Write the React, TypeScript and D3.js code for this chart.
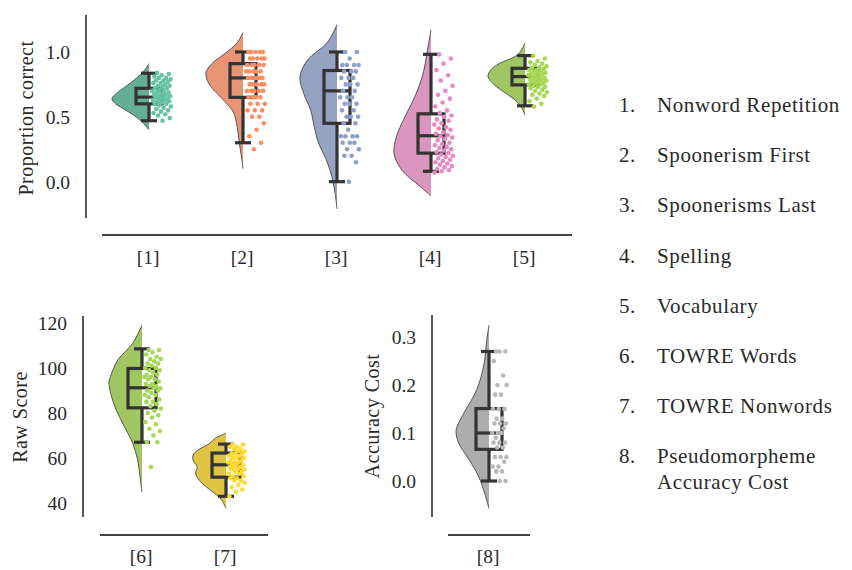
import React from 'react'
import * as d3 from 'd3'

// categories / labels
const topCats = ['1', '2', '3', '4', '5']
const rawCats = ['6', '7']
const costCats = ['8']
const legendNames = ['Nonword Repetition', 'Spoonerism First', 'Spoonerisms Last', 'Spelling', 'Vocabulary', 'TOWRE Words', 'TOWRE Nonwords', 'Pseudomorpheme', 'Accuracy Cost']

const topTicks = [0, 0.5, 1.0]
const rawTicks = [40, 60, 80, 100, 120]
const costTicks = [0, 0.1, 0.2, 0.3]

const dotColors = ['#66c2a5', '#fc8d62', '#8da0cb', '#e78ac3', '#a6d854', '#a6d854', '#ffd92f', '#b8b8b8']
const cloudColors = ['#65ae96', '#e99575', '#95a3c3', '#db96c0', '#9fc661', '#9fc661', '#e2c443', '#adadad']

// box stats: [low whisker, q1, median, q3, high whisker]
const nonwordBox = [0.47, 0.60, 0.652, 0.72, 0.836]
const spoonFirstBox = [0.30, 0.65, 0.80, 0.91, 1.0]
const spoonLastBox = [0.0, 0.45, 0.70, 0.857, 1.0]
const spellingBox = [0.08, 0.22, 0.354, 0.523, 0.982]
const vocabBox = [0.585, 0.746, 0.81, 0.874, 0.972]
const towreWordsBox = [67, 82.3, 91.2, 99.8, 108.5]
const towreNonBox = [43, 51.5, 57, 62.2, 66.2]
const costBox = [0.0, 0.066, 0.10, 0.151, 0.27]

// half-violin outlines: [value, relative density]
const nonwordDensity = [[0.91, 0], [0.86, 0.12], [0.80, 0.33], [0.74, 0.6], [0.68, 0.88], [0.64, 1], [0.60, 0.9], [0.55, 0.62], [0.50, 0.35], [0.45, 0.15], [0.41, 0.03], [0.40, 0]]
const spoonFirstDensity = [[1.15, 0], [1.07, 0.16], [0.99, 0.48], [0.91, 0.84], [0.84, 1], [0.76, 0.93], [0.68, 0.70], [0.60, 0.43], [0.53, 0.25], [0.43, 0.16], [0.30, 0.10], [0.17, 0.03], [0.10, 0]]
const spoonLastDensity = [[1.21, 0], [1.07, 0.27], [0.94, 0.79], [0.81, 1], [0.68, 0.90], [0.55, 0.71], [0.43, 0.62], [0.30, 0.50], [0.17, 0.29], [0.04, 0.14], [-0.09, 0.05], [-0.21, 0]]
const spellingDensity = [[1.17, 0], [0.99, 0.11], [0.86, 0.19], [0.73, 0.33], [0.61, 0.51], [0.48, 0.74], [0.35, 0.93], [0.22, 1], [0.09, 0.79], [-0.04, 0.28], [-0.11, 0]]
const vocabDensity = [[1.07, 0], [0.98, 0.19], [0.91, 0.70], [0.86, 0.93], [0.81, 1], [0.75, 0.84], [0.68, 0.51], [0.62, 0.23], [0.57, 0.09], [0.515, 0]]
const towreWordsDensity = [[119, 0], [111, 0.28], [103.6, 0.73], [96.1, 0.96], [93.9, 1], [88.8, 0.95], [81.3, 0.78], [73.9, 0.53], [66.5, 0.28], [59.1, 0.13], [51.7, 0.06], [45, 0]]
const towreNonDensity = [[71, 0], [69, 0.3], [66.5, 0.5], [62, 0.97], [59.1, 1], [56.1, 0.87], [53.2, 0.92], [50.2, 0.81], [47.2, 0.6], [44.3, 0.34], [41.3, 0.13], [37.6, 0]]
const costDensity = [[0.325, 0], [0.287, 0.08], [0.252, 0.13], [0.217, 0.24], [0.183, 0.42], [0.148, 0.71], [0.113, 0.97], [0.103, 1], [0.079, 0.92], [0.044, 0.6], [0.009, 0.31], [-0.026, 0.13], [-0.057, 0]]

// raw points
const nonwordPts = [0.84, 0.83, 0.82, 0.81, 0.80, 0.80, 0.79, 0.78, 0.78, 0.77, 0.76, 0.76, 0.75, 0.74, 0.74, 0.73, 0.72, 0.72, 0.71, 0.70, 0.70, 0.69, 0.69, 0.68, 0.67, 0.67, 0.66, 0.66, 0.65, 0.65, 0.64, 0.64, 0.63, 0.63, 0.62, 0.62, 0.61, 0.60, 0.60, 0.59, 0.58, 0.57, 0.56, 0.55, 0.54, 0.53, 0.52, 0.51, 0.49, 0.47]
const spoonFirstPts = [1.0, 1.0, 1.0, 1.0, 1.0, 0.95, 0.95, 0.95, 0.95, 0.95, 0.9, 0.9, 0.9, 0.9, 0.9, 0.85, 0.85, 0.85, 0.85, 0.85, 0.8, 0.8, 0.8, 0.8, 0.8, 0.8, 0.75, 0.75, 0.75, 0.75, 0.75, 0.7, 0.7, 0.7, 0.7, 0.7, 0.65, 0.65, 0.65, 0.65, 0.6, 0.6, 0.6, 0.55, 0.55, 0.55, 0.5, 0.5, 0.45, 0.4, 0.35, 0.3, 0.25]
const spoonLastPts = [1.0, 1.0, 0.95, 0.9, 0.9, 0.9, 0.9, 0.85, 0.85, 0.85, 0.8, 0.8, 0.8, 0.75, 0.75, 0.75, 0.7, 0.7, 0.65, 0.65, 0.65, 0.6, 0.6, 0.6, 0.55, 0.55, 0.5, 0.5, 0.5, 0.45, 0.45, 0.4, 0.35, 0.35, 0.35, 0.35, 0.3, 0.3, 0.3, 0.25, 0.25, 0.2, 0.2, 0.15, 0.0]
const spellingPts = [0.98, 0.95, 0.91, 0.86, 0.82, 0.78, 0.74, 0.70, 0.67, 0.64, 0.61, 0.58, 0.55, 0.53, 0.51, 0.50, 0.48, 0.47, 0.45, 0.44, 0.42, 0.41, 0.40, 0.38, 0.37, 0.36, 0.35, 0.34, 0.33, 0.32, 0.30, 0.29, 0.28, 0.27, 0.26, 0.25, 0.24, 0.23, 0.22, 0.21, 0.20, 0.19, 0.18, 0.17, 0.16, 0.15, 0.14, 0.13, 0.12, 0.11, 0.10, 0.09, 0.08, 0.07]
const vocabPts = [0.97, 0.95, 0.93, 0.92, 0.91, 0.90, 0.89, 0.88, 0.88, 0.87, 0.86, 0.86, 0.85, 0.85, 0.84, 0.84, 0.83, 0.83, 0.82, 0.82, 0.81, 0.81, 0.80, 0.80, 0.79, 0.79, 0.78, 0.78, 0.77, 0.77, 0.76, 0.76, 0.75, 0.75, 0.74, 0.73, 0.73, 0.72, 0.71, 0.70, 0.69, 0.68, 0.67, 0.66, 0.64, 0.62, 0.60, 0.58]
const towreWordsPts = [108, 108, 107, 106, 105, 104, 104, 103, 102, 102, 101, 100, 100, 99, 99, 98, 97, 97, 96, 96, 95, 95, 94, 93, 93, 92, 92, 91, 91, 90, 90, 89, 88, 88, 87, 86, 85, 85, 84, 83, 82, 81, 80, 79, 78, 76, 75, 73, 72, 70, 67, 67, 56]
const towreNonPts = [66, 66, 65, 65, 64, 64, 63, 63, 62, 62, 62, 61, 61, 60, 60, 60, 59, 59, 58, 58, 58, 57, 57, 57, 56, 56, 56, 55, 55, 55, 54, 54, 53, 53, 52, 52, 51, 51, 50, 50, 49, 48, 47, 46, 45, 43]
const costPts = [0.27, 0.27, 0.27, 0.25, 0.22, 0.20, 0.20, 0.18, 0.18, 0.15, 0.15, 0.15, 0.13, 0.13, 0.12, 0.12, 0.12, 0.11, 0.10, 0.10, 0.10, 0.09, 0.08, 0.08, 0.08, 0.07, 0.07, 0.05, 0.05, 0.05, 0.04, 0.03, 0.03, 0.02, 0.02, 0.0, 0.0]

const font = "'Liberation Serif', 'DejaVu Serif', 'Noto Serif', 'Times New Roman', Times, FreeSerif, serif"
const ink = '#2a2a2a'
const axisInk = '#444'
const boxInk = '#333'

// deterministic spread for the strip points
const spread = (i: number) => (i * 0.61803398875 + 0.27) % 1

type CloudProps = {
  cx: number
  y: d3.ScaleLinear<number, number>
  w: d3.ScaleLinear<number, number>
  density: number[][]
  box: number[]
  pts: number[]
  fill: string
  dot: string
  boxHalf: number
  jit: [number, number]
}

function Cloud({ cx, y, w, density, box, pts, fill, dot, boxHalf, jit }: CloudProps) {
  const curve = d3.curveCatmullRom.alpha(0.5)
  const area = d3.area<number[]>()
    .y(d => y(d[0]))
    .x0(cx)
    .x1(d => cx - w(d[1]))
    .curve(curve)
  const edge = d3.line<number[]>()
    .x(d => cx - w(d[1]))
    .y(d => y(d[0]))
    .curve(curve)
  const [lo, q1, med, q3, hi] = box
  const cap = 8
  return (
    <g>
      <path d={area(density) || ''} fill={fill} />
      <path d={edge(density) || ''} fill="none" stroke="#555" strokeWidth={1} />
      <g stroke={boxInk} strokeWidth={3.2} fill="none">
        <line x1={cx} x2={cx} y1={y(hi)} y2={y(q3)} />
        <line x1={cx} x2={cx} y1={y(q1)} y2={y(lo)} />
        <line x1={cx - cap} x2={cx + cap} y1={y(hi)} y2={y(hi)} />
        <line x1={cx - cap} x2={cx + cap} y1={y(lo)} y2={y(lo)} />
        <rect x={cx - boxHalf} y={y(q3)} width={boxHalf * 2} height={y(q1) - y(q3)} />
        <line x1={cx - boxHalf} x2={cx + boxHalf} y1={y(med)} y2={y(med)} />
      </g>
      {pts.map((v, i) => (
        <circle key={i} cx={cx + jit[0] + (jit[1] - jit[0]) * spread(i)} cy={y(v)} r={2.3} fill={dot} />
      ))}
    </g>
  )
}

export default function App() {
  const width = 852
  const height = 570

  const xTop = d3.scalePoint<string>().domain(topCats).range([102, 572]).padding(0.5)
  const yTop = d3.scaleLinear().domain([-0.28, 1.285]).range([218, 15])
  const xRaw = d3.scalePoint<string>().domain(rawCats).range([100, 268]).padding(0.5)
  const yRaw = d3.scaleLinear().domain([33.8, 123.1]).range([517, 316])
  const xCost = d3.scalePoint<string>().domain(costCats).range([448, 530]).padding(0.5)
  const yCost = d3.scaleLinear().domain([-0.075, 0.346]).range([517, 315])
  const wTop = d3.scaleLinear().domain([0, 1]).range([0, 37])
  const wBot = d3.scaleLinear().domain([0, 1]).range([0, 33])

  const topGroups = [
    [nonwordDensity, nonwordBox, nonwordPts],
    [spoonFirstDensity, spoonFirstBox, spoonFirstPts],
    [spoonLastDensity, spoonLastBox, spoonLastPts],
    [spellingDensity, spellingBox, spellingPts],
    [vocabDensity, vocabBox, vocabPts],
  ] as [number[][], number[], number[]][]
  const rawGroups = [
    [towreWordsDensity, towreWordsBox, towreWordsPts],
    [towreNonDensity, towreNonBox, towreNonPts],
  ] as [number[][], number[], number[]][]

  const fmt1 = d3.format('.1f')

  const yAxis = (x: number, y: d3.ScaleLinear<number, number>, ticks: number[], f: (n: number) => string) => (
    <g>
      <line x1={x} x2={x} y1={y.range()[0]} y2={y.range()[1]} stroke={axisInk} strokeWidth={1.8} />
      {ticks.map(t => (
        <text key={t} x={x - 16} y={y(t)} dy="0.35em" textAnchor="end" fontSize={19.5} fill={ink}>{f(t)}</text>
      ))}
    </g>
  )

  const xAxis = (y: number, x: d3.ScalePoint<string>, lblY: number) => (
    <g>
      <line x1={x.range()[0]} x2={x.range()[1]} y1={y} y2={y} stroke={axisInk} strokeWidth={1.8} />
      {x.domain().map(c => (
        <text key={c} x={(x(c) || 0) - 1} y={lblY} textAnchor="middle" fontSize={19.5} fill={ink}>[{c}]</text>
      ))}
    </g>
  )

  return (
    <div style={{ fontFamily: font }}>
      <svg width={width} height={height} fontFamily={font} style={{ position: 'absolute', left: 0, top: 0, background: '#fff' }}>
        {/* top panel */}
        {yAxis(86, yTop, topTicks, fmt1)}
        {xAxis(235, xTop, 264)}
        <text transform="translate(33,118) rotate(-90)" textAnchor="middle" fontSize={20} letterSpacing={0.5} fill={ink}>Proportion correct</text>
        {topGroups.map((g, i) => (
          <Cloud key={i} cx={xTop(topCats[i]) || 0} y={yTop} w={wTop} density={g[0]} box={g[1]} pts={g[2]}
            fill={cloudColors[i]} dot={dotColors[i]} boxHalf={13} jit={[3, 22]} />
        ))}

        {/* raw score panel */}
        {yAxis(83, yRaw, rawTicks, d3.format('d'))}
        {xAxis(535, xRaw, 563)}
        <text transform="translate(27,417) rotate(-90)" textAnchor="middle" fontSize={20} letterSpacing={0.5} fill={ink}>Raw Score</text>
        {rawGroups.map((g, i) => (
          <Cloud key={i} cx={xRaw(rawCats[i]) || 0} y={yRaw} w={wBot} density={g[0]} box={g[1]} pts={g[2]}
            fill={cloudColors[i + 5]} dot={dotColors[i + 5]} boxHalf={14} jit={[2, 19]} />
        ))}

        {/* accuracy cost panel */}
        {yAxis(432, yCost, costTicks, fmt1)}
        {xAxis(535, xCost, 563)}
        <text transform="translate(379,416) rotate(-90)" textAnchor="middle" fontSize={20} letterSpacing={0.5} fill={ink}>Accuracy Cost</text>
        <Cloud cx={xCost('8') || 0} y={yCost} w={wBot} density={costDensity} box={costBox} pts={costPts}
          fill={cloudColors[7]} dot={dotColors[7]} boxHalf={13} jit={[3, 18]} />

        {/* legend */}
        <g fontSize={21} fill={ink} letterSpacing={0.6}>
          {legendNames.map((name, i) => {
            const row = Math.min(i, 7)
            const yy = 112 + row * 50.2 + (i === 8 ? 26 : 0)
            return (
              <g key={name}>
                {i < 8 && <text x={619} y={yy}>{`${i + 1}.`}</text>}
                <text x={657} y={yy}>{name}</text>
              </g>
            )
          })}
        </g>
      </svg>
    </div>
  )
}
